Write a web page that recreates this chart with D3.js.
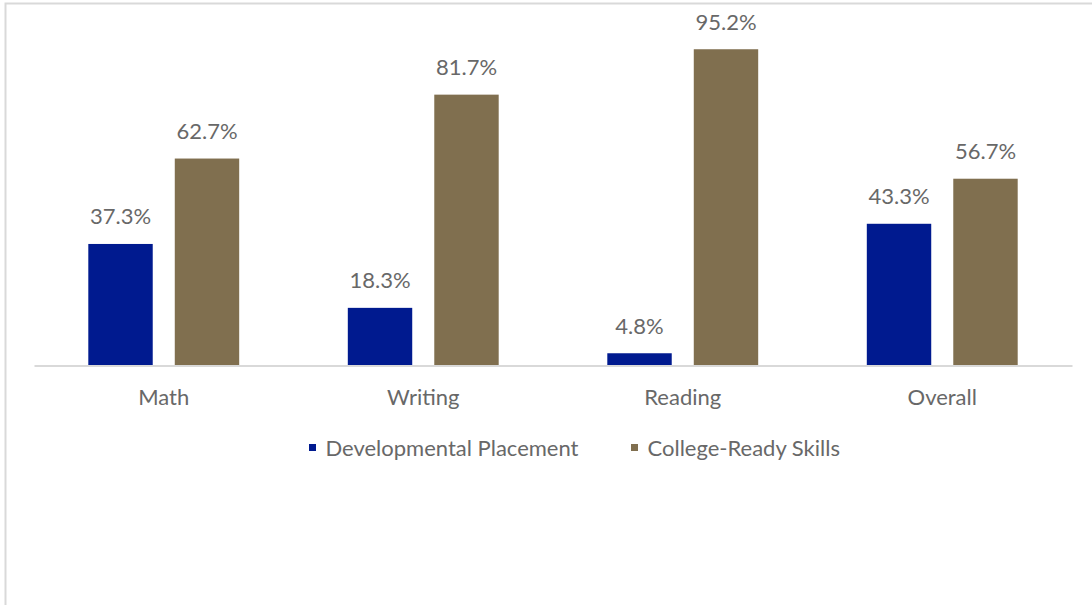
<!DOCTYPE html>
<html>
<head>
<meta charset="utf-8">
<script src="https://cdn.jsdelivr.net/npm/d3@7"></script>
<style>
  html, body { margin: 0; padding: 0; background: #fff; }
  svg { display: block; }
  text { font-family: Lato, "Open Sans", sans-serif; fill: #686868; }
</style>
</head>
<body>
<svg id="chart" width="1092" height="605"></svg>
<script>
// Placement outcomes by subject area (percent of students)
const categories = ["Math", "Writing", "Reading", "Overall"];
const seriesNames = ["Developmental Placement", "College-Ready Skills"];
const developmental = [37.3, 18.3, 4.8, 43.3];
const collegeReady = [62.7, 81.7, 95.2, 56.7];
const seriesColors = ["#001a8f", "#806f4f"];

const svg = d3.select("#chart");
const W = 1092, H = 605;
const fontSize = "22px";

// chart frame
svg.append("rect")
  .attr("x", 5.5).attr("y", 3.5)
  .attr("width", W).attr("height", H)
  .attr("fill", "none")
  .attr("stroke", "#d9d9d9")
  .attr("stroke-width", 2);

const plotLeft = 34, plotRight = 1072, axisY = 365.5;

const x0 = d3.scaleBand().domain(categories).range([plotLeft, plotRight]).padding(0);
const x1 = d3.scaleBand().domain(seriesNames)
  .range([0, x0.bandwidth()])
  .paddingInner(0.255)
  .paddingOuter(0.628);
const y = d3.scaleLinear().domain([0, 100]).range([369.4, 33.1]);

const rows = categories.map((c, i) => ({
  category: c,
  values: [developmental[i], collegeReady[i]]
}));

const groups = svg.append("g").selectAll("g")
  .data(rows).join("g")
  .attr("transform", d => `translate(${x0(d.category)},0)`);

const bars = groups.selectAll("g.bar")
  .data(d => d.values.map((v, j) => ({ series: seriesNames[j], value: v, j })))
  .join("g").attr("class", "bar");

bars.append("rect")
  .attr("x", d => x1(d.series))
  .attr("y", d => y(d.value))
  .attr("width", x1.bandwidth())
  .attr("height", d => Math.max(0, axisY - 0.5 - y(d.value)))
  .attr("fill", d => seriesColors[d.j]);

bars.append("text")
  .attr("x", d => x1(d.series) + x1.bandwidth() / 2)
  .attr("y", d => y(d.value) - 19.5)
  .attr("text-anchor", "middle")
  .style("font-size", fontSize)
  .text(d => d.value.toFixed(1) + "%");

// category axis
const xAxis = svg.append("g").attr("transform", `translate(0,${axisY})`)
  .call(d3.axisBottom(x0).tickSize(0).tickPadding(0));
xAxis.select(".domain").attr("stroke", "#d9d9d9").attr("stroke-width", 2);
xAxis.selectAll(".tick text")
  .attr("dy", null)
  .attr("y", 39.5)
  .style("font-size", fontSize)
  .style("font-family", "Lato, 'Open Sans', sans-serif")
  .attr("fill", "#686868");

// legend
const legendItems = [
  { name: seriesNames[0], color: seriesColors[0], x: 309 },
  { name: seriesNames[1], color: seriesColors[1], x: 631 }
];
const legend = svg.append("g").selectAll("g")
  .data(legendItems).join("g")
  .attr("transform", d => `translate(${d.x},444)`);
legend.append("rect")
  .attr("width", 7).attr("height", 7)
  .attr("fill", d => d.color);
legend.append("text")
  .attr("x", 16.5).attr("y", 11.8)
  .style("font-size", fontSize)
  .text(d => d.name);
</script>
</body>
</html>
